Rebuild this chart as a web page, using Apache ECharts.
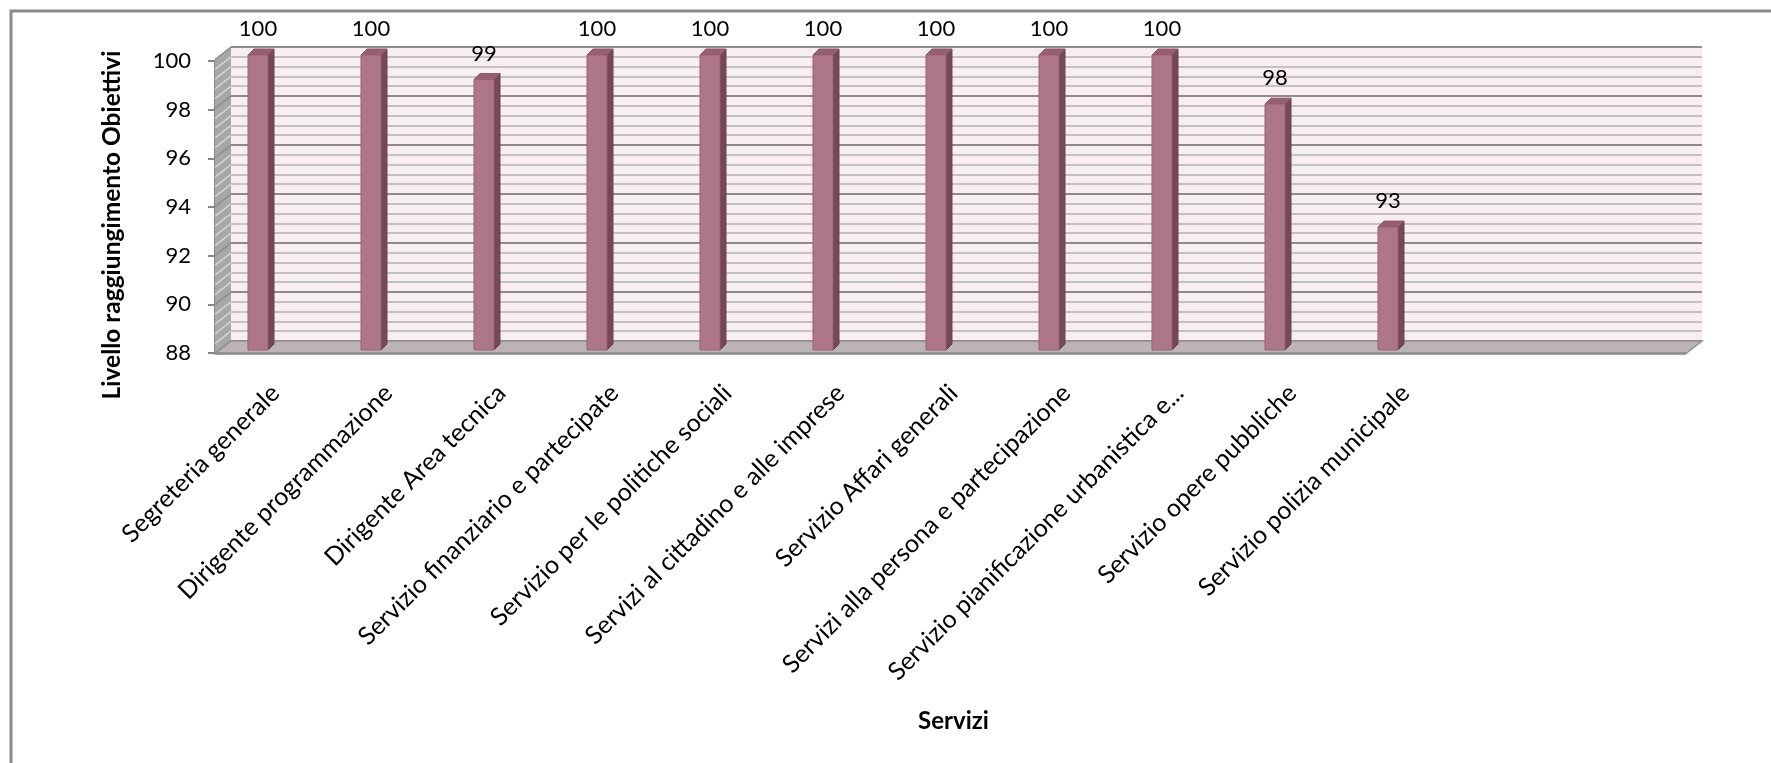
<!DOCTYPE html>
<html>
<head>
<meta charset="utf-8">
<script src="https://cdn.jsdelivr.net/npm/echarts@6/dist/echarts.min.js"></script>
<style>
  html, body { margin: 0; padding: 0; background: #ffffff; }
  #chart { width: 1771px; height: 763px; }
</style>
</head>
<body>
<div id="chart"></div>
<script>
// Service names (category axis)
const categories = [
  'Segreteria generale',
  'Dirigente programmazione',
  'Dirigente Area tecnica',
  'Servizio finanziario e partecipate',
  'Servizio per le politiche sociali',
  'Servizi al cittadino e alle imprese',
  'Servizio Affari generali',
  'Servizi alla persona e partecipazione',
  'Servizio pianificazione urbanistica e...',
  'Servizio opere pubbliche',
  'Servizio polizia municipale'
];
// Objective achievement level per service
const values = [100, 100, 99, 100, 100, 100, 100, 100, 100, 98, 93];
// Value axis range and major tick step
const yMin = 88;
const yMax = 100;
const yStep = 2;
const yTickLabels = ['88', '90', '92', '94', '96', '98', '100'];
// Two empty slots trail the last service on the category axis
const axisSlots = categories.concat(['', '']);

const FONT = 'Lato, "Open Sans", sans-serif';
// Depth offset from the back wall to the front plane
const DEPTH = [-16, 12.5];

const chart = echarts.init(document.getElementById('chart'));

// Side wall and floor, drawn from the wall grid's own scale
function renderWalls(params, api) {
  const children = [];
  const tl = api.coord([0, yMax]);
  const bl = api.coord([0, yMin]);
  const br = api.coord([1, yMin]);
  const off = p => [p[0] + DEPTH[0], p[1] + DEPTH[1]];
  children.push({
    type: 'polygon',
    shape: { points: [tl, off(tl), off(bl), bl] },
    style: { fill: '#A7A7A7', stroke: null }
  });
  const minorStep = yStep / 5;
  const n = Math.round((yMax - yMin) / minorStep);
  for (let k = 0; k <= n; k++) {
    const v = yMin + k * minorStep;
    const p = api.coord([0, v]);
    const major = k % 5 === 0;
    children.push({
      type: 'line',
      shape: { x1: p[0], y1: p[1], x2: p[0] + DEPTH[0], y2: p[1] + DEPTH[1] },
      style: { stroke: major ? '#8A8A8A' : '#D4D4D4', lineWidth: 1.5 }
    });
  }
  children.push({
    type: 'polygon',
    shape: { points: [bl, br, off(br), off(bl)] },
    style: { fill: '#BCB3B6', stroke: '#8F8F8F', lineWidth: 1.5 }
  });
  children.push({
    type: 'line',
    shape: { x1: off(bl)[0], y1: off(bl)[1], x2: off(br)[0], y2: off(br)[1] },
    style: { stroke: '#8C8C8C', lineWidth: 2.5 }
  });
  return { type: 'group', children: children };
}

// 3-D column: front face, right side, top cap and value label
function renderBar(params, api) {
  const i = api.value(0);
  const v = api.value(1);
  const top = api.coord([i, v]);
  const base = api.coord([i, yMin]);
  const band = api.size([1, 0])[0];
  const w = band * 0.177;
  const d = band * 0.053;
  const x0 = top[0] - w / 2;
  const x1 = top[0] + w / 2;
  const yT = top[1];
  const yB = base[1];
  return {
    type: 'group',
    children: [
      {
        type: 'polygon',
        shape: { points: [[x1, yT], [x1 + d, yT - d], [x1 + d, yB - d], [x1, yB]] },
        style: { fill: '#754858', stroke: '#6A3F4E', lineWidth: 1 }
      },
      {
        type: 'polygon',
        shape: { points: [[x0, yT], [x0 + d, yT - d], [x1 + d, yT - d], [x1, yT]] },
        style: { fill: '#98606F', stroke: '#8A5565', lineWidth: 1 }
      },
      {
        type: 'rect',
        shape: { x: x0, y: yT, width: w, height: yB - yT },
        style: { fill: '#AD7788', stroke: '#976373', lineWidth: 1 }
      },
      {
        type: 'text',
        x: top[0],
        y: yT - d - 20,
        style: {
          text: String(v),
          fill: '#000000',
          font: '22px ' + FONT,
          align: 'center',
          verticalAlign: 'middle'
        }
      }
    ]
  };
}

const option = {
  backgroundColor: '#ffffff',
  animation: false,
  grid: [
    // back wall
    { left: 231, top: 47, width: 1471, height: 294, show: true, backgroundColor: '#F8EDF1', borderWidth: 0 },
    // column plane
    { left: 201.5, top: 55, width: 1469, height: 295 },
    // front value axis
    { left: 215, top: 61, width: 1471, height: 292 },
    // category labels
    { left: 219, top: 300, width: 1469, height: 86 }
  ],
  xAxis: [
    { gridIndex: 0, type: 'value', min: 0, max: 1, show: false },
    { gridIndex: 1, type: 'category', data: axisSlots, show: false },
    { gridIndex: 2, type: 'value', min: 0, max: 1, show: false },
    {
      gridIndex: 3, type: 'category', data: axisSlots,
      axisLine: { show: false }, axisTick: { show: false },
      axisLabel: { interval: 0, rotate: 45, margin: 3, color: '#000000', fontSize: 25, fontFamily: FONT },
      name: 'Servizi', nameLocation: 'middle', nameGap: 323,
      nameTextStyle: { color: '#000000', fontSize: 24, fontWeight: 'bold', fontFamily: FONT }
    }
  ],
  yAxis: [
    {
      gridIndex: 0, type: 'value', min: yMin, max: yMax, interval: yStep,
      axisLine: { show: false }, axisTick: { show: false }, axisLabel: { show: false },
      splitLine: { show: true, lineStyle: { color: '#8C8C8C', width: 2 } },
      minorTick: { show: false, splitNumber: 5 },
      minorSplitLine: { show: true, lineStyle: { color: '#C2C2C2', width: 2 } }
    },
    { gridIndex: 1, type: 'value', min: yMin, max: yMax, show: false },
    {
      gridIndex: 2, type: 'value', min: yMin, max: yMax, interval: yStep,
      axisLine: { show: true, lineStyle: { color: '#868686', width: 2 } },
      axisTick: { show: true, length: 7, lineStyle: { color: '#868686', width: 2 } },
      axisLabel: {
        margin: 24, color: '#000000', fontSize: 22, fontFamily: FONT,
        formatter: val => yTickLabels[Math.round((val - yMin) / yStep)]
      },
      splitLine: { show: false }
    },
    { gridIndex: 3, type: 'value', show: false }
  ],
  graphic: [
    {
      type: 'rect',
      shape: { x: 11, y: 11, width: 1820, height: 820 },
      style: { fill: null, stroke: '#8A8A8A', lineWidth: 3 },
      silent: true
    },
    {
      type: 'text',
      x: 112, y: 225, rotation: Math.PI / 2,
      style: {
        text: 'Livello raggiungimento Obiettivi',
        fill: '#000000',
        font: 'bold 24.5px ' + FONT,
        align: 'center',
        verticalAlign: 'middle'
      }
    }
  ],
  series: [
    {
      type: 'custom',
      xAxisIndex: 0, yAxisIndex: 0,
      renderItem: renderWalls,
      data: [[0, yMin]],
      silent: true,
      z: 1
    },
    {
      type: 'custom',
      xAxisIndex: 1, yAxisIndex: 1,
      renderItem: renderBar,
      encode: { x: 0, y: 1 },
      data: values.map((v, i) => [i, v]),
      z: 5
    }
  ]
};

chart.setOption(option);
</script>
</body>
</html>
